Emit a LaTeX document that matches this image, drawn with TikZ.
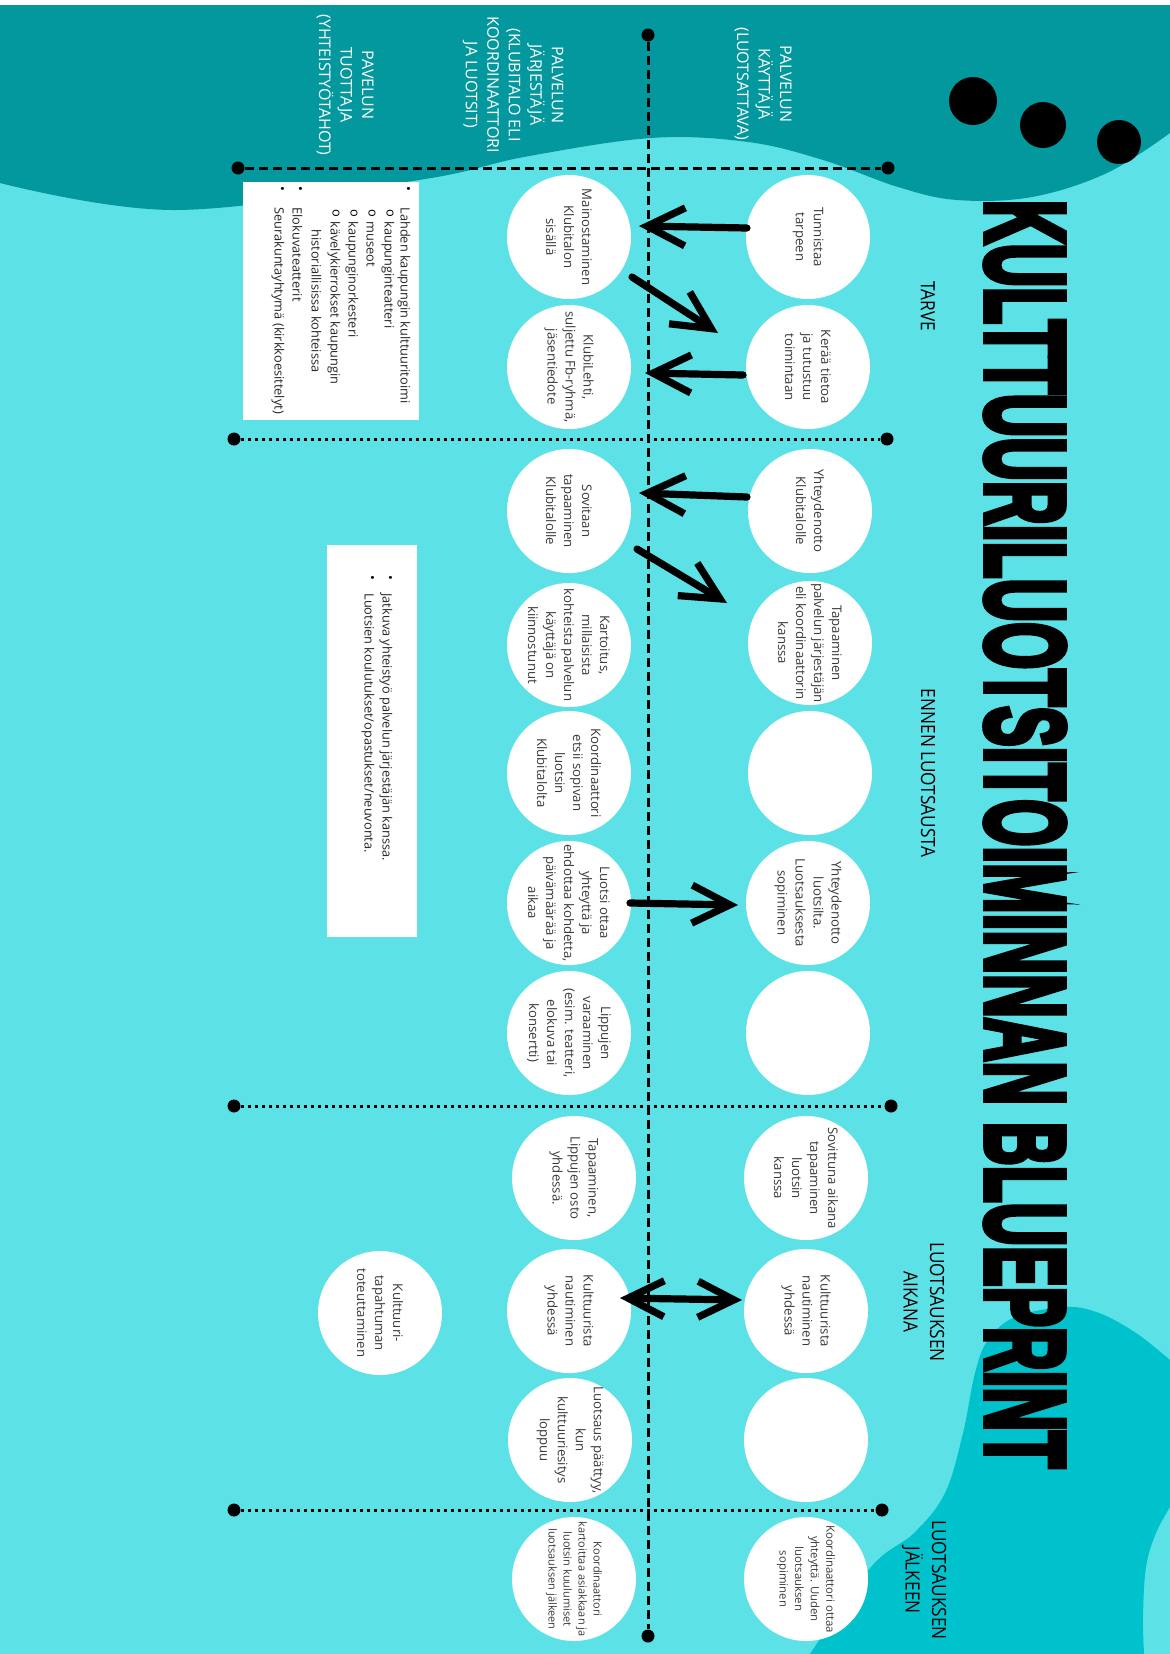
\documentclass[tikz,border=0pt]{standalone}
\usepackage{fontspec}
\usepackage{graphicx}
\setmainfont{Open Sans}
\newfontfamily\phasefont{Open Sans}[FakeStretch=0.88]
\newfontfamily\titlefont{Liberation Sans Bold}[FakeBold=6]
\usetikzlibrary{arrows.meta,calc}
\definecolor{bgcyan}{HTML}{5CE1E6}
\definecolor{darkteal}{HTML}{03989E}
\definecolor{blobc}{HTML}{00C2CC}
\definecolor{txtgray}{HTML}{3A3A3A}
\begin{document}
\begin{tikzpicture}[x=0.5pt,y=-0.5pt,
  circ/.style={circle, fill=white, minimum size=62pt, inner sep=0pt},
  ctext/.style={rotate=-90, align=center, inner sep=0pt, text=txtgray, font=\fontsize{6.6}{9}\selectfont},
  ctextsm/.style={ctext, font=\fontsize{5.7}{7.8}\selectfont},
  rowlab/.style={rotate=-90, align=center, inner sep=0pt, text=white, font=\fontsize{8}{10.75}\selectfont},
  phase/.style={rotate=-90, align=center, inner sep=0pt, text=black, font=\phasefont\fontsize{9.8}{13.25}\selectfont},
  boxline/.style={rotate=-90, anchor=mid west, inner sep=0pt, text=black!85, font=\fontsize{6.4}{9}\selectfont},
  bul/.style={rotate=-90, inner sep=0pt, text=black, font=\fontsize{6.4}{9}\selectfont},
  vline/.style={line width=1.5pt, dash pattern=on 4.5pt off 2.5pt},
  dotline/.style={line width=1.5pt, dash pattern=on 1.5pt off 2pt},
  enddot/.style={circle, fill=black, minimum size=6.5pt, inner sep=0pt},
  arr/.style={line width=3.6pt, line cap=round, -{Straight Barb[length=19pt,width=19pt]}},
  darr/.style={line width=3.6pt, line cap=round, {Straight Barb[length=18pt,width=18pt]}-{Straight Barb[length=18pt,width=18pt]}},
  wbox/.style={fill=white, inner sep=0pt}
]
\useasboundingbox (0,0) rectangle (1170,1654);
% background
\fill[bgcyan] (0,0) rectangle (1170,1654);
\fill[darkteal] (0,5) -- plot[smooth,tension=0.6] coordinates {(0,183) (176,210) (419,180) (524,157) (651,138) (748,142) (823,160) (898,187) (957,200) (1032,197) (1107,173) (1170,133)} -- (1170,5) -- cycle;
\fill[blobc] plot[smooth,tension=0.6] coordinates {(810,1654) (871,1567) (914,1533) (945,1493) (963,1433) (975,1373) (988,1340) (1015,1317) (1065,1307) (1099,1313) (1136,1333) (1170,1360)} -- (1170,1507) -- plot[smooth,tension=0.6] coordinates {(1170,1507) (1156,1533) (1146,1567) (1143,1617) (1144,1654)} -- cycle;
\fill[white] (0,0) rectangle (1170,5);
% decorative dots
\fill[black] (973,101) circle[radius=24];
\fill[black] (1043,125) circle[radius=23];
\fill[black] (1119,142) circle[radius=22];

% title
\node[rotate=-90, inner sep=0pt, text=black] (title) at (1025,834) {\resizebox{634pt}{39pt}{\titlefont KULTTUURILUOTSITOIMINNAN BLUEPRINT}};

% row labels
\node[rowlab] (r1) at (763,84) {PALVELUN\\KÄYTTÄJÄ\\(LUOTSATTAVA)};
\node[rowlab] (r2) at (513,85) {PALVELUN\\JÄRJESTÄJÄ\\(KLUBITALO ELI\\KOORDINAATTORI\\JA LUOTSIT)};
\node[rowlab] (r3) at (345,85) {PAVELUN\\TUOTTAJA\\(YHTEISTYÖTAHOT)};

% phase labels
\node[phase] (p1) at (928,306) {TARVE};
\node[phase] (p2) at (928,773) {ENNEN LUOTSAUSTA};
\node[phase] (p3) at (924,1302) {LUOTSAUKSEN\\AIKANA};
\node[phase] (p4) at (924,1580) {LUOTSAUKSEN\\JÄLKEEN};

% lines
\node[enddot] (vt) at (648,35) {};
\node[enddot] (vb) at (648,1636) {};
\draw[vline] (vt) -- (vb);
\node[enddot] (h1a) at (238,168) {};
\node[enddot] (h1b) at (888,168) {};
\draw[vline] (h1a) -- (h1b);
\node[enddot] (h2a) at (234,439) {};
\node[enddot] (h2b) at (887,439) {};
\draw[dotline] (h2a) -- (h2b);
\node[enddot] (h3a) at (234,1106) {};
\node[enddot] (h3b) at (891,1106) {};
\draw[dotline] (h3a) -- (h3b);
\node[enddot] (h4a) at (234,1510) {};
\node[enddot] (h4b) at (882,1510) {};
\draw[dotline] (h4a) -- (h4b);

% row 1 circles (user)
\node[circ] (u1) at (808,237) {};
\node[circ] (u2) at (808,367) {};
\node[circ] (u3) at (810,511) {};
\node[circ] (u4) at (810,643) {};
\node[circ] (u5) at (810,773) {};
\node[circ] (u6) at (808,903) {};
\node[circ] (u7) at (808,1033) {};
\node[circ] (u8) at (806,1178) {};
\node[circ] (u9) at (806,1311) {};
\node[circ] (u10) at (806,1440) {};
\node[circ] (u11) at (806,1579) {};
\node[ctext] (u1t) at (u1) {Tunnistaa\\tarpeen};
\node[ctext] (u2t) at (u2) {Kerää tietoa\\ja tutustuu\\toimintaan};
\node[ctext] (u3t) at (u3) {Yhteydenotto\\Klubitalolle};
\node[ctext] (u4t) at (u4) {Tapaaminen\\palvelun järjestäjän\\eli koordinaattorin\\kanssa};
\node[ctext] (u6t) at (u6) {Yhteydenotto\\luotsilta.\\Luotsauksesta\\sopiminen};
\node[ctext] (u8t) at (u8) {Sovittuna aikana\\tapaaminen\\luotsin\\kanssa};
\node[ctext] (u9t) at (u9) {Kulttuurista\\nautiminen\\yhdessä};
\node[ctextsm] (u11t) at (u11) {Koordinaattori ottaa\\yhteyttä. Uuden\\luotsauksen\\sopiminen};

% row 2 circles (organiser)
\node[circ] (j1) at (569,237) {};
\node[circ] (j2) at (569,367) {};
\node[circ] (j3) at (569,511) {};
\node[circ] (j4) at (569,645) {};
\node[circ] (j5) at (569,773) {};
\node[circ] (j6) at (569,903) {};
\node[circ] (j7) at (569,1033) {};
\node[circ] (j8) at (574,1178) {};
\node[circ] (j9) at (569,1311) {};
\node[circ] (j10) at (570,1440) {};
\node[circ] (j11) at (574,1579) {};
\node[ctext] (j1t) at (j1) {Mainostaminen\\Klubitalon\\sisällä};
\node[ctext] (j2t) at (j2) {KlubiLehti,\\suljettu Fb-ryhmä,\\jäsentiedote};
\node[ctext] (j3t) at (j3) {Sovitaan\\tapaaminen\\Klubitalolle};
\node[ctext] (j4t) at (j4) {Kartoitus,\\millaisista\\kohteista palvelun\\käyttäjä on\\kiinnostunut};
\node[ctext] (j5t) at (j5) {Koordinaattori\\etsii sopivan\\luotsin\\Klubitalolta};
\node[ctext] (j6t) at (j6) {Luotsi ottaa\\yhteyttä ja\\ehdottaa kohdetta,\\päivämäärää ja\\aikaa};
\node[ctext] (j7t) at (j7) {Lippujen\\varaaminen\\(esim. teatteri,\\elokuva tai\\konsertti)};
\node[ctext] (j8t) at (j8) {Tapaaminen,\\Lippujen osto\\yhdessä.};
\node[ctext] (j9t) at (j9) {Kulttuurista\\nautiminen\\yhdessä};
\node[ctext] (j10t) at (j10) {Luotsaus päättyy,\\kun\\kulttuuriesitys\\loppuu};
\node[ctextsm, font=\fontsize{5.5}{7.5}\selectfont] (j11t) at (j11) {Koordinaattori\\kartoittaa asiakkaan ja\\luotsin kuulumiset\\luotsauksen jälkeen};

% row 3 circle (producer)
\node[circ] (t1) at (380,1313) {};
\node[ctext] (t1t) at (t1) {Kulttuuri-\\tapahtuman\\toteuttaminen};

% white boxes
\node[wbox, minimum width=88pt, minimum height=119pt] (box1) at (331,301) {};
\node[wbox, minimum width=45pt, minimum height=196pt] (box2) at (372,741) {};

% box 1 contents
\node[bul] (b1) at (407,189) {•};
\node[boxline] (l1) at (406,207) {Lahden kaupungin kulttuuritoimi};
\node[bul] (b2) at (390,213) {o};
\node[boxline] (l2) at (390,221) {kaupunginteatteri};
\node[bul] (b3) at (372,213) {o};
\node[boxline] (l3) at (372,221) {museot};
\node[bul] (b4) at (354,213) {o};
\node[boxline] (l4) at (354,221) {kaupunginorkesteri};
\node[bul] (b5) at (336,213) {o};
\node[boxline] (l5) at (336,221) {kävelykierrokset kaupungin};
\node[boxline] (l6) at (317,229) {historiallisissa kohteissa};
\node[bul] (b7) at (299,189) {•};
\node[boxline] (l7) at (298,207) {Elokuvateatterit};
\node[bul] (b8) at (281,189) {•};
\node[boxline] (l8) at (280,207) {Seurakuntayhtymä (kirkkoesittelyt)};

% box 2 contents
\node[bul] (c1) at (389,578) {•};
\node[boxline] (m1) at (388,593) {Jatkuva yhteistyö palvelun järjestäjän kanssa.};
\node[bul] (c2) at (371,578) {•};
\node[boxline] (m2) at (370,593) {Luotsien koulutukset/opastukset/neuvonta.};

% arrows
\draw[arr] ($(u1)+(-61,-9)$) -- ($(j1)+(70,-11)$);
\draw[arr] ($(j1)+(63,40)$) -- ($(u2)+(-90,-34)$);
\draw[arr] ($(u2)+(-65,8)$) -- ($(j2)+(76,6)$);
\draw[arr] ($(u3)+(-63,-14)$) -- ($(j3)+(70,-18)$);
\draw[arr] ($(j3)+(68,38)$) -- ($(u4)+(-83,-40)$);
\draw[arr] ($(j6)+(61,0)$) -- ($(u6)+(-70,2)$);
\draw[darr] ($(j9)+(51,-13)$) -- ($(u9)+(-64,-11)$);
\end{tikzpicture}
\end{document}
